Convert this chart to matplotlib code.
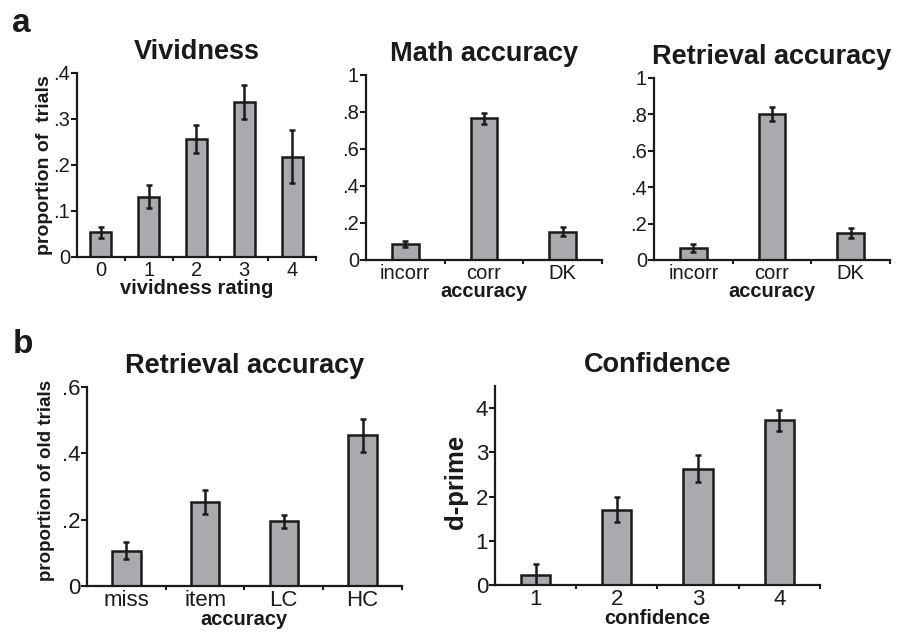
import matplotlib
matplotlib.use("Agg")
import matplotlib.pyplot as plt
import numpy as np

plt.rcParams['font.family'] = ['Liberation Sans', 'DejaVu Sans']

# panel a data
viv_labels = ['0', '1', '2', '3', '4']
viv_mean = [0.054, 0.131, 0.256, 0.337, 0.218]
viv_err = [0.012, 0.025, 0.030, 0.037, 0.057]

acc_labels = ['incorr', 'corr', 'DK']
math_mean = [0.085, 0.766, 0.152]
math_err = [0.017, 0.031, 0.025]
retr_mean = [0.064, 0.802, 0.148]
retr_err = [0.022, 0.040, 0.030]

# panel b data
old_labels = ['miss', 'item', 'LC', 'HC']
old_mean = [0.107, 0.253, 0.195, 0.454]
old_err = [0.027, 0.037, 0.020, 0.051]

conf_labels = ['1', '2', '3', '4']
dprime_mean = [0.23, 1.70, 2.63, 3.72]
dprime_err = [0.25, 0.28, 0.31, 0.24]

BAR = '#a9aaad'
INK = '#1a1a1a'


def frac(v):
    # .2 style tick labels
    if v == 0:
        return '0'
    if v == 1:
        return '1'
    return ('%.1f' % v).lstrip('0')


def draw(ax, labels, mean, err, width, ylim, yticks, ylabs, title, xlab, tsize):
    x = np.arange(len(labels))
    ax.bar(x, mean, width=width, color=BAR, edgecolor=INK, linewidth=1.8, zorder=2)
    ax.errorbar(x, mean, yerr=err, fmt='none', ecolor=INK, elinewidth=1.8,
                capsize=2.5, capthick=1.8, zorder=3)
    ax.set_xlim(-0.5, len(labels) - 0.5)
    ax.set_ylim(*ylim)
    ax.set_xticks(x)
    ax.set_xticklabels(labels, fontsize=tsize, color=INK)
    ax.tick_params(axis='x', which='major', length=0, pad=3)
    ax.set_xticks(list(x[:-1] + 0.5) + [len(labels) - 0.5], minor=True)
    ax.tick_params(axis='x', which='minor', length=3, width=1.5, color=INK)
    ax.set_yticks(yticks)
    ax.set_yticklabels(ylabs, fontsize=tsize, color=INK)
    ax.tick_params(axis='y', length=4, width=1.5, color=INK, pad=1)
    for s in ['top', 'right']:
        ax.spines[s].set_visible(False)
    for s in ['left', 'bottom']:
        ax.spines[s].set_linewidth(1.6)
        ax.spines[s].set_color(INK)
    ax.set_title(title, fontsize=19.5, fontweight='bold', color=INK, pad=10)
    ax.set_xlabel(xlab, fontsize=14.5, fontweight='bold', color=INK, labelpad=-1)


fig = plt.figure(figsize=(9.05, 6.33), dpi=100)

ax1 = fig.add_axes([0.0851, 0.594, 0.264, 0.2907])
draw(ax1, viv_labels, viv_mean, viv_err, 0.44, (0, 0.4),
     [0, 0.1, 0.2, 0.3, 0.4], [frac(v) for v in [0, 0.1, 0.2, 0.3, 0.4]],
     'Vividness', 'vividness rating', 14.5)
ax1.set_ylabel('proportion of  trials', fontsize=14, fontweight='bold', color=INK)
ax1.yaxis.set_label_coords(-0.10, 0.5)

yt = [0, 0.2, 0.4, 0.6, 0.8, 1.0]
ax2 = fig.add_axes([0.4044, 0.5893, 0.2608, 0.2923])
draw(ax2, acc_labels, math_mean, math_err, 0.34, (0, 1), yt,
     [frac(v) for v in yt], 'Math accuracy', 'accuracy', 14.5)

ax3 = fig.add_axes([0.7227, 0.5893, 0.2608, 0.2875])
draw(ax3, acc_labels, retr_mean, retr_err, 0.34, (0, 1), yt,
     [frac(v) for v in yt], 'Retrieval accuracy', 'accuracy', 14.5)

yt = [0, 0.2, 0.4, 0.6]
ax4 = fig.add_axes([0.0961, 0.0742, 0.348, 0.3144])
draw(ax4, old_labels, old_mean, old_err, 0.36, (0, 0.6), yt,
     [frac(v) for v in yt], 'Retrieval accuracy', 'accuracy', 16)
ax4.set_ylabel('proportion of old trials', fontsize=13.5, fontweight='bold', color=INK)
ax4.yaxis.set_label_coords(-0.10, 0.53)

yt = [0, 1, 2, 3, 4]
ax5 = fig.add_axes([0.547, 0.0758, 0.359, 0.3144])
draw(ax5, conf_labels, dprime_mean, dprime_err, 0.36, (0, 4.5), yt,
     [str(v) for v in yt], 'Confidence', 'confidence', 16)
ax5.set_ylabel('d-prime', fontsize=18.5, fontweight='bold', color=INK)
ax5.yaxis.set_label_coords(-0.083, 0.52)

fig.text(12 / 905, 1 - 32 / 633, 'a', fontsize=24, fontweight='bold', color=INK)
fig.text(13 / 905, 1 - 353 / 633, 'b', fontsize=24, fontweight='bold', color=INK)

fig.savefig('out.png', dpi=100)
